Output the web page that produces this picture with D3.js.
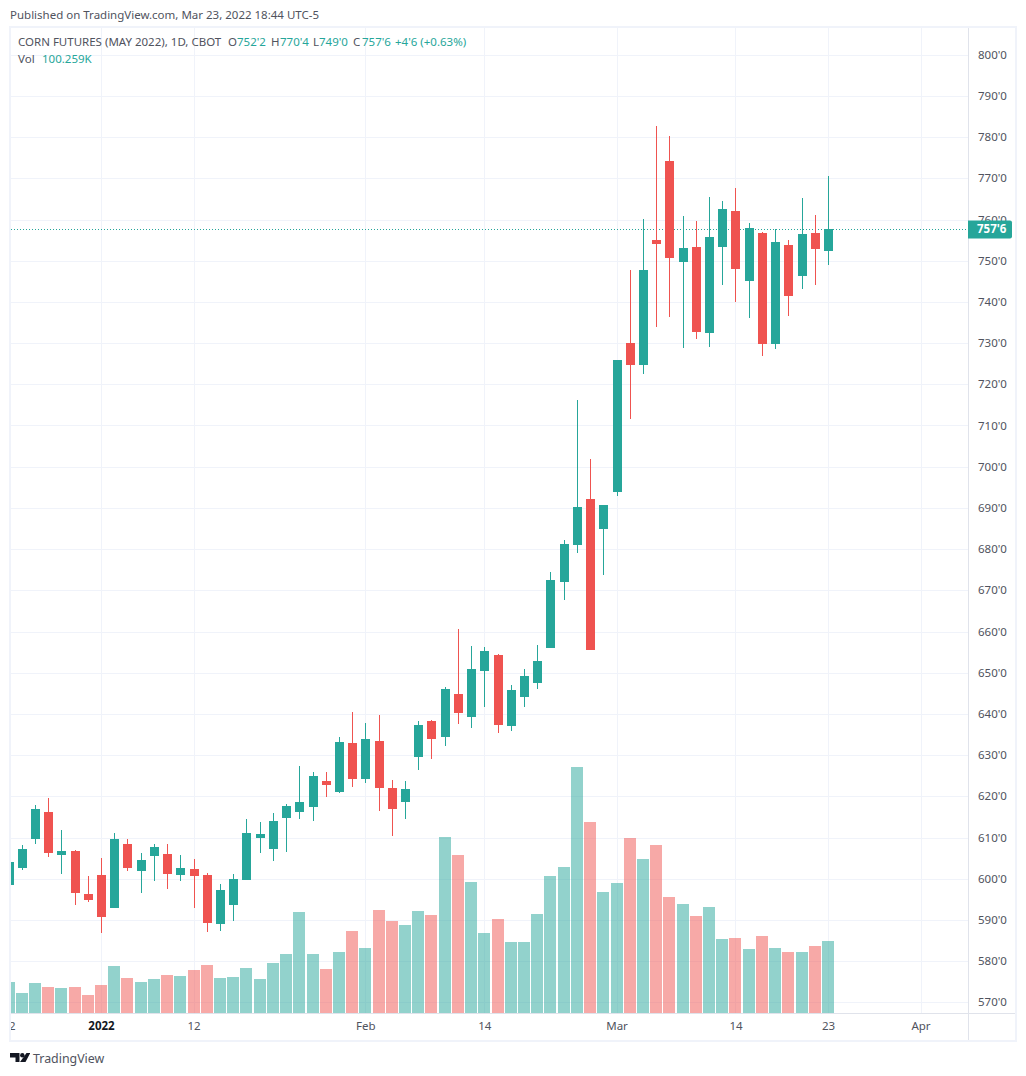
<!DOCTYPE html>
<html>
  <head>
    <meta charset="utf-8">
    <script src="https://d3js.org/d3.v7.min.js" charset="utf-8"></script>
    <style>
      body { margin: 0; background: #fff; }
      text { font-family: "Noto Sans", "Open Sans", sans-serif; }
      .domain { display: none; }
    </style>
  </head>
  <body>
    <script>
      var w = 1026;
      var h = 1076;

      // daily candles, Dec 22 2021 to Mar 23 2022
      var opens = [598.5, 602.7, 609.7, 616.3, 605.8, 606.8, 596.4, 601, 593, 608.5, 601.9, 605.6, 606.1, 601, 602.4, 601,
        589.1, 593.7, 599.8, 610, 607.3, 614.8, 616.3, 617.5, 623.6, 621.1, 633, 624.3, 633.5, 621.9, 618.5, 629.6,
        638.3, 634.5, 644.9, 639.3, 650.5, 654.4, 637.1, 644.2, 647.6, 656.1, 671.9, 680.9, 692.2, 685, 693.9, 730,
        724.7, 755.1, 774.3, 749.7, 753.4, 732.5, 753.4, 762.1, 745.1, 756.8, 729.8, 753.8, 746.3, 756.8, 752.25];
      var highs = [604.1, 608.3, 617.9, 619.7, 611.9, 607, 600.7, 605.1, 611.2, 609.7, 606.3, 608.5, 608.5, 605.8, 604.9, 601.5,
        598.8, 601.2, 614.6, 613.8, 616, 618.2, 627.4, 626, 626, 634.5, 640.5, 637.9, 639.8, 624, 623.8, 638.3,
        638.6, 646.6, 660.7, 656.6, 656.3, 654.6, 647, 651, 656.8, 674.5, 682.3, 716.2, 701.9, 690.8, 726, 747.8,
        760.1, 782.8, 780.3, 760.9, 759.6, 765.5, 764.5, 767.7, 759.2, 757, 757.7, 755.1, 765.1, 761.1, 770.5];
      var lows = [598.5, 602.2, 608.5, 605.3, 601.2, 593.7, 594.4, 586.9, 593, 601.9, 596.6, 599.5, 597.6, 599.5, 593, 587.1,
        587.4, 589.8, 599.8, 606.3, 604.4, 606.6, 614.6, 614.1, 619.9, 620.9, 622.3, 623.3, 616.5, 610.4, 614.5, 626.5,
        629, 632.2, 637.6, 636.6, 641.7, 635.4, 635.9, 641.7, 646.1, 656.1, 667.7, 679.1, 655.4, 673.6, 693, 711.6,
        722.5, 733.9, 736.4, 728.8, 731, 729.1, 744.1, 740, 736.1, 726.9, 728.6, 736.6, 743.2, 744.1, 749];
      var closes = [604.1, 607.3, 616.8, 606.3, 606.8, 596.6, 594.9, 590.8, 609.7, 602.7, 604.6, 607.8, 601.2, 602.7, 600.7, 589.3,
        597.3, 600, 611.2, 610.9, 614.1, 617.7, 618.7, 625, 622.8, 633.3, 624.3, 634, 622.1, 617, 621.7, 637.4,
        634, 646.1, 640.3, 650.8, 655.3, 637.4, 645.9, 649.3, 652.9, 672.6, 681.3, 690.3, 655.6, 690.8, 725.9, 724.7,
        747.8, 754.1, 750.7, 753.1, 732.7, 755.8, 762.6, 748, 758, 729.8, 754.6, 741.5, 756.4, 752.9, 757.75];
      // volume in thousands
      var volumes = [43.6, 28.3, 42.2, 36.6, 35.2, 36.6, 25.5, 39.4, 65.8, 49.1, 43.6, 47.7, 53.3, 51.9, 60.3, 67.2,
        49.1, 50.5, 63.1, 47.7, 70, 82.5, 141, 82.5, 61.7, 85.3, 114.6, 90.9, 143.8, 128.5, 123, 142.4,
        136.9, 245.5, 220.4, 182.8, 111.8, 131.3, 99.3, 99.3, 138.3, 191.2, 203.7, 342.9, 266.3, 168.9, 181.4, 244.1,
        214.8, 234.3, 161.9, 152.2, 135.5, 148, 103.5, 104.9, 89.6, 107.6, 90.9, 85.4, 85.4, 93.7, 100.26];

      var priceTicks = d3.range(570, 801, 10);
      var timeTicks = [0, 7, 14, 27, 36, 46, 55, 62, 69];
      var timeLabels = ["22", "2022", "12", "Feb", "14", "Mar", "14", "23", "Apr"];
      var lastPrice = 757.75;

      var green = "#26a69a";
      var red = "#ef5350";
      var gridColor = "#f0f3fa";

      var plotLeft = 11, plotRight = 968, plotTop = 28, plotBottom = 1013;

      var x = d3.scaleLinear().domain([0, 62]).range([8.5, 828]);
      var y = d3.scaleLinear().domain([570, 800]).range([1002.3, 54.7]);
      var yVol = d3.scaleLinear().domain([0, 342.9]).range([plotBottom, 767]);

      function fmtPrice(v){
        var whole = Math.floor(v);
        return whole + "'" + Math.round((v - whole) * 8);
      }
      function snap(v){ return Math.round(v) + 0.5; }

      var svg = d3.select("body")
      .append("svg")
      .attr("width", w)
      .attr("height", h)
      .style("display", "block");

      var defs = svg.append("defs");
      defs.append("clipPath").attr("id", "plot").append("rect")
      .attr("x", plotLeft).attr("y", plotTop).attr("width", plotRight - plotLeft).attr("height", plotBottom - plotTop);
      defs.append("clipPath").attr("id", "timeclip").append("rect")
      .attr("x", plotLeft).attr("y", plotBottom).attr("width", plotRight - plotLeft).attr("height", 27);

      svg.append("text")
      .attr("x", 10).attr("y", 19)
      .attr("font-size", 11.5).attr("fill", "#50535e")
      .text("Published on TradingView.com, Mar 23, 2022 18:44 UTC-5");

      // frame
      svg.append("rect")
      .attr("x", 10).attr("y", 27).attr("width", 1006).attr("height", 1014)
      .attr("fill", "none").attr("stroke", gridColor).attr("stroke-width", 2);

      // grid
      var plot = svg.append("g").attr("clip-path", "url(#plot)");
      plot.selectAll(".hgrid").data(priceTicks).enter().append("line")
      .attr("class", "hgrid")
      .attr("x1", plotLeft).attr("x2", plotRight)
      .attr("y1", function(d){ return snap(y(d)); })
      .attr("y2", function(d){ return snap(y(d)); })
      .attr("stroke", gridColor);
      plot.selectAll(".vgrid").data(timeTicks).enter().append("line")
      .attr("class", "vgrid")
      .attr("x1", function(d){ return snap(x(d)); })
      .attr("x2", function(d){ return snap(x(d)); })
      .attr("y1", plotTop).attr("y2", plotBottom)
      .attr("stroke", gridColor);

      function barColor(i){ return closes[i] >= opens[i] ? green : red; }

      // volume
      plot.selectAll(".vol").data(volumes).enter().append("rect")
      .attr("class", "vol")
      .attr("x", function(d, i){ return Math.round(x(i)) - 6; })
      .attr("width", 12)
      .attr("y", function(d){ return Math.round(yVol(d)); })
      .attr("height", function(d){ return plotBottom - Math.round(yVol(d)); })
      .attr("fill", function(d, i){ return barColor(i); })
      .attr("fill-opacity", 0.5);

      // last price line
      plot.append("line")
      .attr("x1", plotLeft).attr("x2", plotRight)
      .attr("y1", snap(y(lastPrice))).attr("y2", snap(y(lastPrice)))
      .attr("stroke", green).attr("stroke-dasharray", "1 2");

      // candles
      plot.selectAll(".wick").data(highs).enter().append("line")
      .attr("class", "wick")
      .attr("x1", function(d, i){ return snap(x(i)); })
      .attr("x2", function(d, i){ return snap(x(i)); })
      .attr("y1", function(d){ return Math.round(y(d)); })
      .attr("y2", function(d, i){ return Math.round(y(lows[i])); })
      .attr("stroke", function(d, i){ return barColor(i); });
      plot.selectAll(".body").data(opens).enter().append("rect")
      .attr("class", "body")
      .attr("x", function(d, i){ return Math.round(x(i)) - 4; })
      .attr("width", 9)
      .attr("y", function(d, i){ return Math.round(y(Math.max(d, closes[i]))); })
      .attr("height", function(d, i){
        return Math.max(1, Math.round(y(Math.min(d, closes[i]))) - Math.round(y(Math.max(d, closes[i]))));
      })
      .attr("fill", function(d, i){ return barColor(i); });

      // axes separators
      svg.append("line").attr("x1", plotRight + 0.5).attr("x2", plotRight + 0.5).attr("y1", plotTop).attr("y2", 1040)
      .attr("stroke", "#e0e3eb");
      svg.append("line").attr("x1", plotLeft).attr("x2", 1015).attr("y1", plotBottom + 0.5).attr("y2", plotBottom + 0.5)
      .attr("stroke", "#e0e3eb");

      // price axis
      var priceAxis = d3.axisRight(y).tickValues(priceTicks).tickSize(0).tickPadding(10)
      .tickFormat(fmtPrice);
      svg.append("g").attr("transform", "translate(" + plotRight + ",0)").call(priceAxis)
      .selectAll("text").attr("font-size", 11.5).attr("fill", "#50535e").style("font-family", null);

      // time axis
      var timeAxis = d3.axisBottom(x).tickValues(timeTicks).tickSize(0).tickPadding(9)
      .tickFormat(function(d, i){ return timeLabels[i]; });
      var tg = svg.append("g").attr("clip-path", "url(#timeclip)")
      .append("g").attr("transform", "translate(0," + plotBottom + ")").call(timeAxis);
      tg.selectAll("text").attr("font-size", 11.5).style("font-family", null)
      .attr("font-weight", function(d, i){ return timeLabels[i] == "2022" ? "bold" : null; })
      .attr("fill", function(d, i){ return timeLabels[i] == "2022" ? "#131722" : "#50535e"; });

      // last price tag
      svg.append("path")
      .attr("d", "M968," + (snap(y(lastPrice)) - 9) + "h42a2,2 0 0 1 2,2v14a2,2 0 0 1 -2,2h-42z")
      .attr("fill", green);
      svg.append("text")
      .attr("x", 977).attr("y", y(lastPrice) + 4.5)
      .attr("font-size", 11.5).attr("font-weight", "bold").attr("fill", "#fff")
      .text(fmtPrice(lastPrice));

      // header
      var legend = [
        [18, "CORN FUTURES (MAY 2022), 1D, CBOT", "#50535e"],
        [228, "O", "#50535e"], [237, "752'2", green],
        [271, "H", "#50535e"], [280, "770'4", green],
        [313, "L", "#50535e"], [319, "749'0", green],
        [353, "C", "#50535e"], [362, "757'6", green],
        [395, "+4'6 (+0.63%)", green]
      ];
      svg.selectAll(".legend").data(legend).enter().append("text")
      .attr("class", "legend")
      .attr("x", function(d){ return d[0]; })
      .attr("y", 46)
      .attr("font-size", 11.5)
      .attr("fill", function(d){ return d[2]; })
      .text(function(d){ return d[1]; });
      svg.append("text").attr("x", 18).attr("y", 63).attr("font-size", 11.5).attr("fill", "#50535e").text("Vol");
      svg.append("text").attr("x", 42).attr("y", 63).attr("font-size", 11.5).attr("fill", green).text("100.259K");

      // logo
      var logo = svg.append("g").attr("transform", "translate(10,1053)").attr("fill", "#131722");
      logo.append("path").attr("d", "M0,0h9.5v9h-4v-4.5h-5.5z");
      logo.append("circle").attr("cx", 12.3).attr("cy", 2.2).attr("r", 2.2);
      logo.append("path").attr("d", "M16.5,0h3.5v0.5l-4.5,8.5h-5.5z");
      svg.append("text").attr("x", 33).attr("y", 1063).attr("font-size", 12.4).attr("fill", "#50535e").text("TradingView");
    </script>
  </body>
</html>
